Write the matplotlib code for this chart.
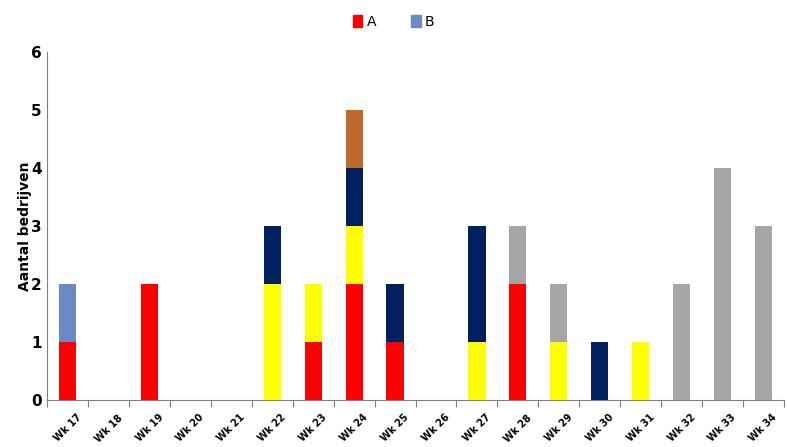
import numpy as np
import matplotlib
matplotlib.use('Agg')
import matplotlib.pyplot as plt
from matplotlib.patches import Patch

weeks = ["Wk %d" % w for w in range(17, 35)]
#             17 18 19 20 21 22 23 24 25 26 27 28 29 30 31 32 33 34
red_a     = [1, 0, 2, 0, 0, 0, 1, 2, 1, 0, 0, 2, 0, 0, 0, 0, 0, 0]
yellow    = [0, 0, 0, 0, 0, 2, 1, 1, 0, 0, 1, 0, 1, 0, 1, 0, 0, 0]
navy      = [0, 0, 0, 0, 0, 1, 0, 1, 1, 0, 2, 0, 0, 1, 0, 0, 0, 0]
gray      = [0, 0, 0, 0, 0, 0, 0, 0, 0, 0, 0, 1, 1, 0, 0, 2, 4, 3]
brown     = [0, 0, 0, 0, 0, 0, 0, 1, 0, 0, 0, 0, 0, 0, 0, 0, 0, 0]
blue_b    = [1, 0, 0, 0, 0, 0, 0, 0, 0, 0, 0, 0, 0, 0, 0, 0, 0, 0]

series = [
    (red_a, '#FF0000'),
    (yellow, '#FFFF00'),
    (navy, '#002060'),
    (gray, '#A6A6A6'),
    (brown, '#C0692F'),
    (blue_b, '#6A8AC6'),
]

fig = plt.figure(figsize=(7.87, 4.47), dpi=100)
ax = fig.add_axes([0.06, 0.105, 0.936, 0.779])

x = np.arange(len(weeks))
bottom = np.zeros(len(weeks))
for vals, col in series:
    vals = np.array(vals, dtype=float)
    ax.bar(x, vals, bottom=bottom, width=0.42, color=col, linewidth=0)
    bottom += vals

ax.set_xlim(-0.5, len(weeks) - 0.5)
ax.set_ylim(0, 6)
ax.set_yticks(range(7))
ax.tick_params(axis='y', length=0, labelsize=11, pad=4)
for lab in ax.get_yticklabels():
    lab.set_fontweight('bold')

# ticks between categories, labels at centres
ax.set_xticks(np.arange(-0.5, len(weeks), 1.0))
ax.set_xticklabels([])
ax.set_xticks(x, minor=True)
ax.set_xticklabels(weeks, minor=True, rotation=45, fontsize=7, fontweight='bold',
                   ha='center', va='top')
ax.tick_params(axis='x', which='major', length=5, color='#808080', direction='out')
ax.tick_params(axis='x', which='minor', length=0, pad=9)

for side in ['top', 'right']:
    ax.spines[side].set_visible(False)
ax.spines['left'].set_color('#808080')
ax.spines['bottom'].set_color('#808080')

ax.set_ylabel('Aantal bedrijven', fontsize=10, fontweight='bold', labelpad=-1)

handles = [Patch(color='#FF0000', label='A'), Patch(color='#6A8AC6', label='B')]
fig.legend(handles=handles, loc='upper center', bbox_to_anchor=(0.5, 0.995), ncol=2,
           frameon=False, fontsize=10, handlelength=0.7, handleheight=1.0,
           handletextpad=0.3, columnspacing=2.5)

fig.savefig('out.png', dpi=100)
